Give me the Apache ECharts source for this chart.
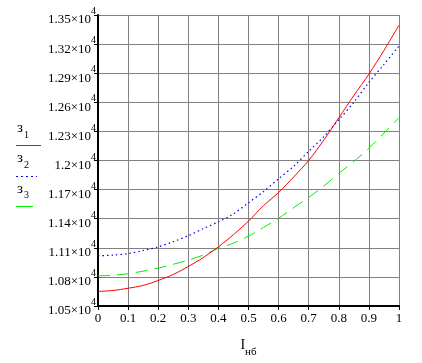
<!DOCTYPE html>
<html><head><meta charset="utf-8">
<script src="https://cdn.jsdelivr.net/npm/echarts@6/dist/echarts.min.js"></script>
<style>html,body{margin:0;padding:0;background:#fff}#c{width:422px;height:363px}</style>
</head><body><div id="c"></div>
<script>
// x values (I_нб)
const xValues = [0,0.05,0.1,0.15,0.2,0.25,0.3,0.35,0.4,0.45,0.5,0.55,0.6,0.65,0.7,0.75,0.8,0.85,0.9,0.95,1];
// series values
const z1 = [10650,10660,10683,10712,10763,10825,10907,11000,11110,11235,11375,11535,11670,11830,12000,12210,12440,12670,12890,13135,13395];
const z2 = [11018,11025,11040,11072,11110,11163,11225,11298,11368,11450,11565,11680,11812,11940,12095,12245,12420,12600,12805,12990,13180];
const z3 = [10810,10817,10833,10860,10890,10930,10973,11025,11095,11148,11220,11310,11405,11513,11620,11736,11867,11990,12127,12283,12440];
// tick labels
const xTickLabels = ['0','0.1','0.2','0.3','0.4','0.5','0.6','0.7','0.8','0.9','1'];
const yTickLabels = ['1.05','1.08','1.11','1.14','1.17','1.2','1.23','1.26','1.29','1.32','1.35'];
const seriesNames = ['з1','з2','з3'];

const SERIF = '"Liberation Serif","DejaVu Serif",serif';
const pair = (xs, ys) => xs.map((x, i) => [x, ys[i]]);

const chart = echarts.init(document.getElementById('c'), null, {renderer: 'canvas'});
chart.setOption({
  backgroundColor: '#fff',
  animation: false,
  grid: {left: 98, right: 23, top: 15, bottom: 45, containLabel: false},
  xAxis: {
    type: 'value', min: 0, max: 1, interval: 0.1,
    axisLine: {onZero: false, lineStyle: {color: '#000', width: 2}},
    axisTick: {show: true, length: 4, lineStyle: {color: '#000', width: 1}},
    splitLine: {show: true, lineStyle: {color: '#808080', width: 1}},
    axisLabel: {
      margin: 6, color: '#000', fontFamily: SERIF, fontSize: 13,
      formatter: v => xTickLabels[Math.round(v * 10)]
    },
    name: '{i|I}{s|нб}', nameLocation: 'middle', nameGap: 32,
    nameTextStyle: {
      fontFamily: SERIF, color: '#000',
      rich: {
        i: {fontFamily: SERIF, fontSize: 14, lineHeight: 16, verticalAlign: 'top', color: '#000'},
        s: {fontFamily: SERIF, fontSize: 11, lineHeight: 12, verticalAlign: 'bottom', color: '#000', padding: [0,0,-4,0]}
      }
    }
  },
  yAxis: {
    type: 'value', min: 10500, max: 13500, interval: 300,
    axisLine: {show: true, lineStyle: {color: '#000', width: 2}},
    axisTick: {show: true, length: 4, lineStyle: {color: '#000', width: 1}},
    splitLine: {show: true, lineStyle: {color: '#808080', width: 1}},
    axisLabel: {
      margin: 2, color: '#000', padding: [3, 0, 0, 0],
      formatter: v => '{m|' + yTickLabels[Math.round((v - 10500) / 300)] + '×10}{s|4}',
      rich: {
        m: {fontFamily: SERIF, fontSize: 13, lineHeight: 20, verticalAlign: 'bottom', color: '#000'},
        s: {fontFamily: SERIF, fontSize: 10, lineHeight: 9, verticalAlign: 'top', color: '#000'}
      }
    }
  },
  series: [
    {name: seriesNames[0], type: 'line', data: pair(xValues, z1), showSymbol: false, smooth: 0.3,
     lineStyle: {color: '#ff0000', width: 1}, z: 4},
    {name: seriesNames[1], type: 'line', data: pair(xValues, z2), showSymbol: false, smooth: 0.3,
     lineStyle: {color: '#0000ff', width: 1.2, type: [1.5, 3]}, z: 3},
    {name: seriesNames[2], type: 'line', data: pair(xValues, z3), showSymbol: false, smooth: 0.3,
     lineStyle: {color: '#00ee00', width: 1, type: [12, 7]}, z: 3}
  ],
  graphic: [
    {type: 'text', x: 17, y: 128, style: {text: 'з', font: '15px ' + SERIF, fill: '#000', verticalAlign: 'middle'}},
    {type: 'text', x: 24, y: 135, style: {text: '1', font: '10px ' + SERIF, fill: '#000', verticalAlign: 'middle'}},
    {type: 'line', shape: {x1: 16, y1: 145.5, x2: 41, y2: 145.5}, style: {stroke: '#ff0000', lineWidth: 1}},
    {type: 'text', x: 17, y: 158.5, style: {text: 'з', font: '15px ' + SERIF, fill: '#000', verticalAlign: 'middle'}},
    {type: 'text', x: 24, y: 165.5, style: {text: '2', font: '10px ' + SERIF, fill: '#000', verticalAlign: 'middle'}},
    {type: 'line', shape: {x1: 16, y1: 176.5, x2: 37, y2: 176.5}, style: {stroke: '#0000ff', lineWidth: 1, lineDash: [2, 3]}},
    {type: 'text', x: 17, y: 189, style: {text: 'з', font: '15px ' + SERIF, fill: '#000', verticalAlign: 'middle'}},
    {type: 'text', x: 24, y: 195.5, style: {text: '3', font: '10px ' + SERIF, fill: '#000', verticalAlign: 'middle'}},
    {type: 'line', shape: {x1: 16, y1: 206.5, x2: 33, y2: 206.5}, style: {stroke: '#00ee00', lineWidth: 1}}
  ]
});
</script>
</body></html>
